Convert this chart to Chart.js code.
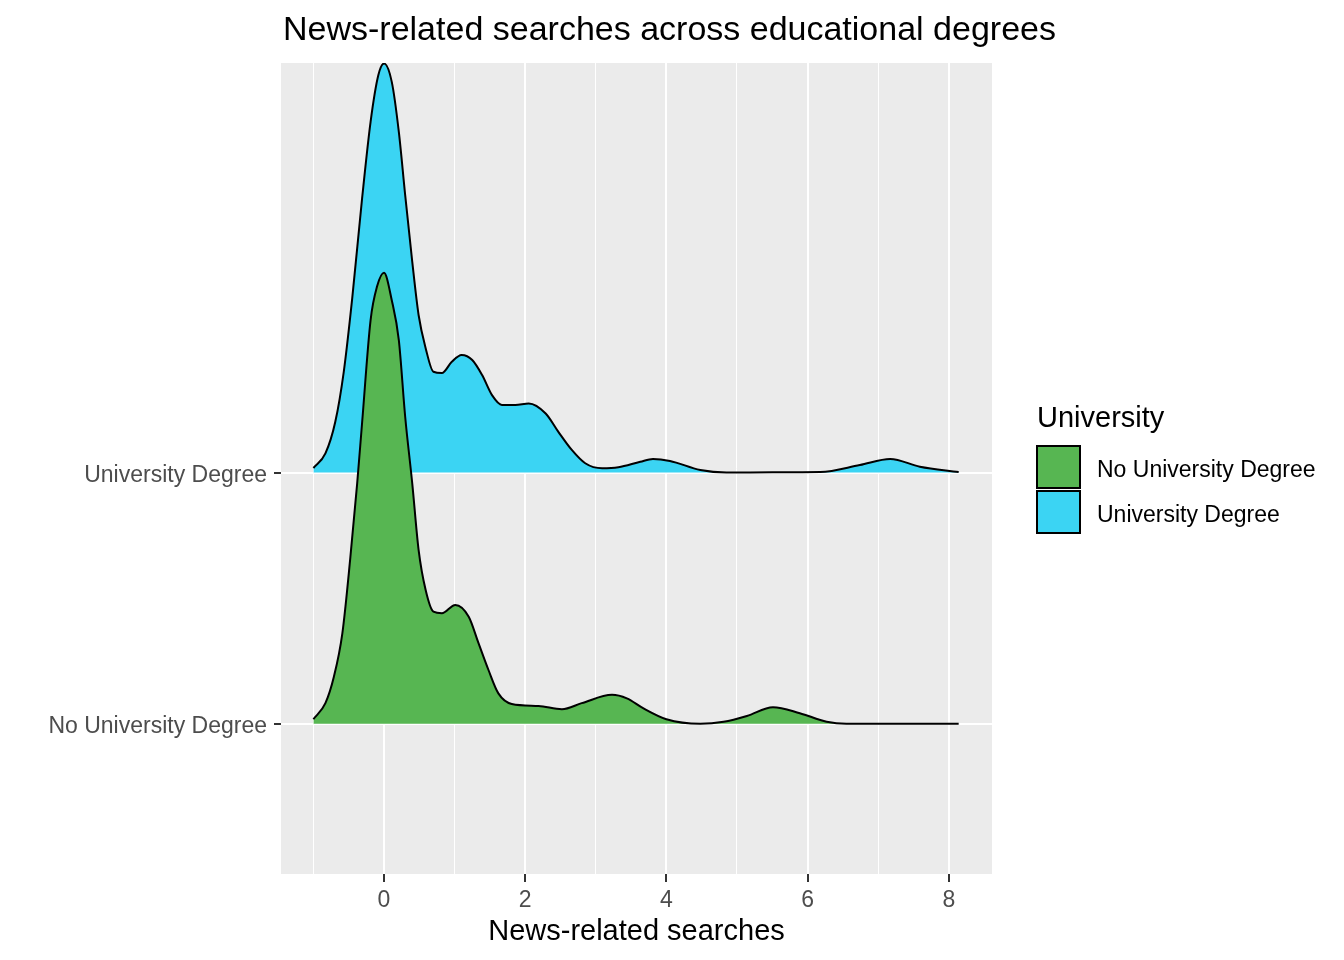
<!DOCTYPE html>
<html>
<head>
<meta charset="utf-8">
<title>News-related searches across educational degrees</title>
<script src="https://cdn.jsdelivr.net/npm/chart.js@4"></script>
<style>
  html, body { margin: 0; padding: 0; background: #fff; }
  canvas { display: block; }
</style>
</head>
<body>
<canvas id="chart" width="1344" height="960"></canvas>
<script>
// ridge categories, bottom to top
const categories = ['No University Degree', 'University Degree'];
const fillColors = ['#57B652', '#3BD4F3'];

// density curve for "No University Degree" (x = searches, h = ridge height)
const xNoUni = [-1.00, -0.83, -0.71, -0.59, -0.48, -0.38, -0.31, -0.19, -0.10, 0.00, 0.11, 0.21, 0.30, 0.40, 0.49, 0.59, 0.70, 0.82, 1.01, 1.20, 1.34, 1.48, 1.62, 1.81, 2.19, 2.52, 2.80, 3.23, 3.44, 3.67, 4.00, 4.48, 4.81, 5.14, 5.51, 5.89, 6.27, 6.55, 7.30, 8.14];
const hNoUni = [0.018, 0.082, 0.187, 0.360, 0.652, 0.957, 1.199, 1.607, 1.739, 1.795, 1.686, 1.527, 1.222, 0.957, 0.692, 0.532, 0.446, 0.440, 0.473, 0.426, 0.320, 0.214, 0.121, 0.079, 0.071, 0.058, 0.082, 0.115, 0.101, 0.062, 0.018, 0.000, 0.008, 0.031, 0.066, 0.042, 0.008, 0.000, 0.000, 0.000];

// density curve for "University Degree"
const xUni = [-1.00, -0.83, -0.69, -0.57, -0.45, -0.31, -0.19, -0.08, 0.00, 0.11, 0.21, 0.30, 0.40, 0.49, 0.59, 0.70, 0.82, 0.96, 1.10, 1.25, 1.39, 1.53, 1.67, 1.86, 2.05, 2.29, 2.47, 2.66, 2.85, 3.09, 3.32, 3.63, 3.81, 4.05, 4.48, 4.85, 5.50, 6.18, 6.74, 7.17, 7.59, 8.14];
const hUni = [0.018, 0.076, 0.202, 0.401, 0.694, 1.092, 1.396, 1.582, 1.628, 1.555, 1.356, 1.104, 0.839, 0.627, 0.495, 0.401, 0.396, 0.441, 0.468, 0.448, 0.388, 0.308, 0.269, 0.269, 0.275, 0.235, 0.162, 0.090, 0.037, 0.017, 0.021, 0.043, 0.054, 0.046, 0.010, 0.000, 0.001, 0.002, 0.030, 0.054, 0.023, 0.002];

// x axis gridlines and labelled ticks
const xGrid = [-1, 0, 1, 2, 3, 4, 5, 6, 7, 8];
const xTickLabels = ['0', '2', '4', '6', '8'];

const FONT = "'Liberation Sans', Arial, sans-serif";

function ridge(xs, hs, base) {
  return xs.map((x, i) => ({ x: x, y: base + hs[i] }));
}

const ridgeDecor = {
  id: 'ridgeDecor',
  beforeDraw(chart) {
    const { ctx, chartArea: a } = chart;
    ctx.save();
    ctx.fillStyle = '#ffffff';
    ctx.fillRect(0, 0, chart.width, chart.height);
    ctx.fillStyle = '#EBEBEB';
    ctx.fillRect(a.left, a.top, a.right - a.left, a.bottom - a.top);
    ctx.restore();
  },
  afterDraw(chart) {
    const ctx = chart.ctx;
    ctx.save();
    // title
    ctx.fillStyle = '#000';
    ctx.textBaseline = 'alphabetic';
    ctx.textAlign = 'left';
    ctx.font = '34px ' + FONT;
    ctx.fillText('News-related searches across educational degrees', 283, 40);
    // legend
    ctx.font = '29px ' + FONT;
    ctx.fillText('University', 1037, 427);
    ctx.font = '23px ' + FONT;
    chart.data.datasets.forEach((ds, i) => {
      const top = 446 + i * 45;
      ctx.fillStyle = ds.backgroundColor;
      ctx.fillRect(1037, top, 43, 42);
      ctx.strokeStyle = '#000';
      ctx.lineWidth = 2;
      ctx.strokeRect(1037, top, 43, 42);
      ctx.fillStyle = '#000';
      ctx.textBaseline = 'middle';
      ctx.fillText(ds.label, 1097, top + 25);
    });
    ctx.restore();
  }
};

new Chart(document.getElementById('chart'), {
  type: 'line',
  data: {
    datasets: [
      {
        label: categories[0],
        data: ridge(xNoUni, hNoUni, 1),
        backgroundColor: fillColors[0],
        borderColor: '#000',
        borderWidth: 2,
        fill: { value: 1 },
        pointRadius: 0,
        cubicInterpolationMode: 'monotone'
      },
      {
        label: categories[1],
        data: ridge(xUni, hUni, 2),
        backgroundColor: fillColors[1],
        borderColor: '#000',
        borderWidth: 2,
        fill: { value: 2 },
        pointRadius: 0,
        cubicInterpolationMode: 'monotone'
      }
    ]
  },
  options: {
    responsive: false,
    animation: false,
    devicePixelRatio: 1,
    layout: { padding: { left: 0, top: 63, right: 352, bottom: 0 } },
    plugins: {
      legend: { display: false },
      title: { display: false },
      tooltip: { enabled: false }
    },
    scales: {
      x: {
        type: 'linear',
        min: -1.459,
        max: 8.612,
        afterBuildTicks: (scale) => { scale.ticks = xGrid.map(v => ({ value: v })); },
        afterFit: (scale) => { scale.height = 86; },
        border: { display: false },
        grid: {
          color: '#ffffff',
          lineWidth: (c) => (c.tick && c.tick.value % 2 === 0 ? 2 : 1),
          tickColor: (c) => (c.tick && c.tick.value % 2 === 0 ? '#333333' : 'rgba(0,0,0,0)'),
          tickWidth: 2,
          tickLength: 8
        },
        ticks: {
          autoSkip: false,
          maxRotation: 0,
          padding: 5,
          color: '#4D4D4D',
          font: { family: FONT, size: 23 },
          callback: (v) => (v % 2 === 0 ? xTickLabels[v / 2] : '')
        },
        title: {
          display: true,
          text: 'News-related searches',
          color: '#000',
          font: { family: FONT, size: 29 },
          padding: { top: 0, bottom: 11 }
        }
      },
      y: {
        type: 'linear',
        min: 0.402,
        max: 3.63,
        afterBuildTicks: (scale) => { scale.ticks = [{ value: 1 }, { value: 2 }]; },
        afterFit: (scale) => { scale.width = 281; },
        border: { display: false },
        grid: {
          color: '#ffffff',
          lineWidth: 2,
          tickColor: '#333333',
          tickWidth: 2,
          tickLength: 7
        },
        ticks: {
          padding: 7,
          labelOffset: 3,
          color: '#4D4D4D',
          font: { family: FONT, size: 23 },
          callback: (v) => categories[v - 1]
        }
      }
    }
  },
  plugins: [ridgeDecor]
});
</script>
</body>
</html>
